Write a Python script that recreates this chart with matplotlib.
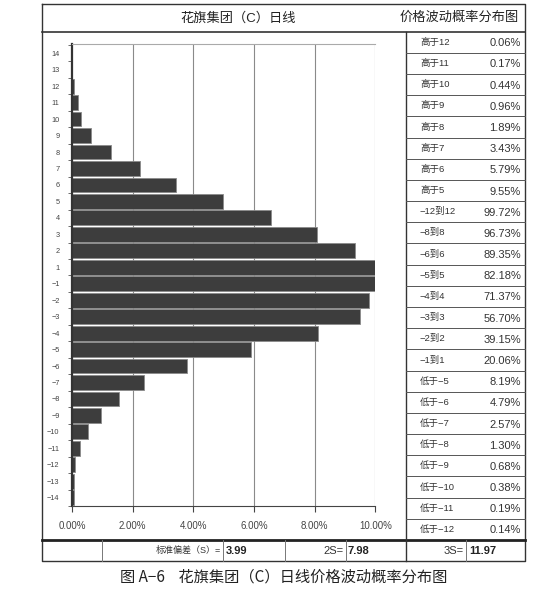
import numpy as np
import matplotlib
matplotlib.use('Agg')
import matplotlib.pyplot as plt

plt.rcParams['font.family'] = ['Liberation Sans', 'Noto Sans CJK SC', 'DejaVu Sans']

# bar chart: price change (points) vs frequency (%)
levels = [14, 13, 12, 11, 10, 9, 8, 7, 6, 5, 4, 3, 2, 1,
          -1, -2, -3, -4, -5, -6, -7, -8, -9, -10, -11, -12, -13, -14]
freq = [0.01, 0.01, 0.05, 0.19, 0.30, 0.63, 1.29, 2.24, 3.43, 4.96, 6.55, 8.08, 9.32, 10.0,
        10.0, 9.77, 9.48, 8.11, 5.91, 3.78, 2.37, 1.55, 0.94, 0.53, 0.27, 0.11, 0.05, 0.05]
xticks = [0, 2, 4, 6, 8, 10]

# probability table on the right
tbl_labels = ['高于12', '高于11', '高于10', '高于9', '高于8', '高于7', '高于6', '高于5',
              '−12到12', '−8到8', '−6到6', '−5到5', '−4到4', '−3到3', '−2到2', '−1到1',
              '低于−5', '低于−6', '低于−7', '低于−8', '低于−9', '低于−10', '低于−11', '低于−12']
tbl_values = ['0.06%', '0.17%', '0.44%', '0.96%', '1.89%', '3.43%', '5.79%', '9.55%',
              '99.72%', '96.73%', '89.35%', '82.18%', '71.37%', '56.70%', '39.15%', '20.06%',
              '8.19%', '4.79%', '2.57%', '1.30%', '0.68%', '0.38%', '0.19%', '0.14%']

std_s = 3.99

W, H = 550, 591
fig = plt.figure(figsize=(W / 100, H / 100), dpi=100)
fig.patch.set_facecolor('white')

def fig_rect(x0, y0, x1, y1):
    return [x0 / W, 1 - y1 / H, (x1 - x0) / W, (y1 - y0) / H]

# ---- bar chart ----
ax = fig.add_axes(fig_rect(72, 44, 375.5, 506))
pos = np.arange(len(levels))
ax.barh(pos, freq, height=0.9, color='#3d3d3d', edgecolor='#8a8a8a', linewidth=0.6, zorder=2)
ax.set_xlim(0, 10)
ax.set_ylim(27.26, -0.56)
ax.set_xticks(xticks)
ax.set_xticklabels(['%.2f%%' % v for v in xticks], fontsize=7, color='#444444')
ax.tick_params(axis='x', length=4, width=0.8, color='#444444', pad=7)
ax.set_yticks(pos)
ax.set_yticklabels([str(v).replace('-', '−') for v in levels], fontsize=5.3, color='#444444')
ax.tick_params(axis='y', length=0, pad=9)
ax.set_yticks(np.arange(-0.5, len(levels), 1), minor=True)
ax.tick_params(axis='y', which='minor', length=3, width=0.6, color='#555555')
for v in xticks[1:]:
    ax.axvline(v, color='#8a8a8a', linewidth=0.8, zorder=1)
ax.spines['left'].set_linewidth(1.6)
ax.spines['left'].set_color('#333333')
ax.spines['bottom'].set_linewidth(0.8)
ax.spines['bottom'].set_color('#444444')
ax.spines['top'].set_color('#aaaaaa')
ax.spines['top'].set_linewidth(0.8)
ax.spines['right'].set_visible(False)

# ---- frame, title, table (pixel coordinates) ----
ov = fig.add_axes([0, 0, 1, 1], zorder=-1)
ov.set_xlim(0, W)
ov.set_ylim(H, 0)
ov.axis('off')

left, right, top, bottom = 42, 525, 4, 561
title_y, bot_y = 31.7, 540
tbl_x = 406
lc = '#333333'
ov.plot([left, right, right, left, left], [top, top, bottom, bottom, top], color=lc, lw=1.0)
ov.plot([left, right], [title_y, title_y], color=lc, lw=1.2)
ov.plot([left, right], [bot_y, bot_y], color='#222222', lw=2.0)
ov.plot([tbl_x, tbl_x], [title_y, bottom], color=lc, lw=1.0)

ov.text(238, 18, '花旗集团（C）日线', ha='center', va='center', fontsize=9.5, color='#222222')
ov.text(519, 18, '价格波动概率分布图', ha='right', va='center', fontsize=9.5, color='#222222')

row_h = (bot_y - title_y) / len(tbl_labels)
for i, (lab, val) in enumerate(zip(tbl_labels, tbl_values)):
    y0 = title_y + i * row_h
    if i > 0:
        ov.plot([tbl_x, right], [y0, y0], color='#555555', lw=0.7)
    ov.text(tbl_x + 14, y0 + row_h / 2, lab, ha='left', va='center', fontsize=6.8, color='#333333')
    ov.text(right - 4, y0 + row_h / 2 + 1, val, ha='right', va='center', fontsize=8, color='#333333')

# bottom row: standard deviation
for x in [102, 223, 285, 346, 466]:
    ov.plot([x, x], [bot_y, bottom], color='#777777', lw=0.7)
mid = (bot_y + bottom) / 2
ov.text(221, mid, '标准偏差（S）=', ha='right', va='center', fontsize=6.5, color='#333333')
ov.text(226, mid, '%.2f' % std_s, ha='left', va='center', fontsize=8, fontweight='bold', color='#222222')
ov.text(344, mid, '2S=', ha='right', va='center', fontsize=8, color='#333333')
ov.text(348, mid, '%.2f' % (2 * std_s), ha='left', va='center', fontsize=8, fontweight='bold', color='#222222')
ov.text(464, mid, '3S=', ha='right', va='center', fontsize=8, color='#333333')
ov.text(469, mid, '%.2f' % (3 * std_s), ha='left', va='center', fontsize=8, fontweight='bold', color='#222222')

# caption
fig.text(284 / W, 1 - 577 / H, '图 A−6    花旗集团（C）日线价格波动概率分布图',
         ha='center', va='center', fontsize=11, color='#222222',
         family=['Noto Sans CJK SC', 'DejaVu Sans'])

fig.savefig('out.png', dpi=100, facecolor='white')
